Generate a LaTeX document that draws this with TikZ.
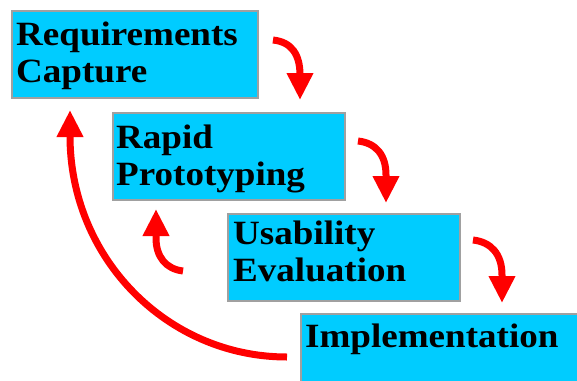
\documentclass[tikz,border=0pt]{standalone}
\usepackage{fontspec}
\setmainfont{Liberation Serif}[FakeStretch=1.09]
\usetikzlibrary{arrows.meta,calc}
\definecolor{boxcyan}{HTML}{00CCFF}
\definecolor{boxgray}{HTML}{A0A0A0}
\definecolor{arrred}{HTML}{FF0000}
\begin{document}
\begin{tikzpicture}[x=1pt,y=-1pt,
  box/.style={draw=boxgray,line width=1.5pt,fill=boxcyan,inner sep=0pt,outer sep=0pt,anchor=north west},
  lbl/.style={anchor=base west,inner sep=0pt,font=\fontsize{34}{37}\selectfont\bfseries},
  flow/.style={draw=arrred,line width=7pt,-{Triangle[width=25pt,length=27pt]}}]
\useasboundingbox (0,0) rectangle (577,380);
\node[box,minimum width=246pt,minimum height=87pt] (b1) at (12,11) {};
\node[box,minimum width=232pt,minimum height=87pt] (b2) at (113,113) {};
\node[box,minimum width=232pt,minimum height=87pt] (b3) at (228,214) {};
\node[box,minimum width=330pt,minimum height=110pt] (b4) at (301,314) {};
\node[lbl] (t1a) at ($(b1.north west)+(4,34)$) {Requirements};
\node[lbl] (t1b) at ($(b1.north west)+(4,71)$) {Capture};
\node[lbl] (t2a) at ($(b2.north west)+(3,35)$) {Rapid};
\node[lbl] (t2b) at ($(b2.north west)+(3,72)$) {Prototyping};
\node[lbl] (t3a) at ($(b3.north west)+(5,30)$) {Usability};
\node[lbl] (t3b) at ($(b3.north west)+(5,67)$) {Evaluation};
\node[lbl] (t4a) at ($(b4.north west)+(4,33)$) {Implementation};
% forward arrows
\coordinate (s1) at (273,40);
\coordinate (s2) at (358,141);
\coordinate (s3) at (473,240);
\draw[flow] (s1) .. controls (292,42) and (300,55) .. (300,75) -- (300,100);
\draw[flow] (s2) .. controls (376,143) and (386,155) .. (386,175) -- (386,203);
\draw[flow] (s3) .. controls (491,242) and (502,254) .. (502,275) -- (502,303);
% back arrows
\coordinate (s4) at (183,271);
\coordinate (s5) at (287,357);
\draw[flow] (s4) .. controls (166,269) and (156,257) .. (156,238) -- (156,209);
\draw[flow] (s5) .. controls (167,357) and (70,258) .. (70,136) -- (70,110);
\end{tikzpicture}
\end{document}
